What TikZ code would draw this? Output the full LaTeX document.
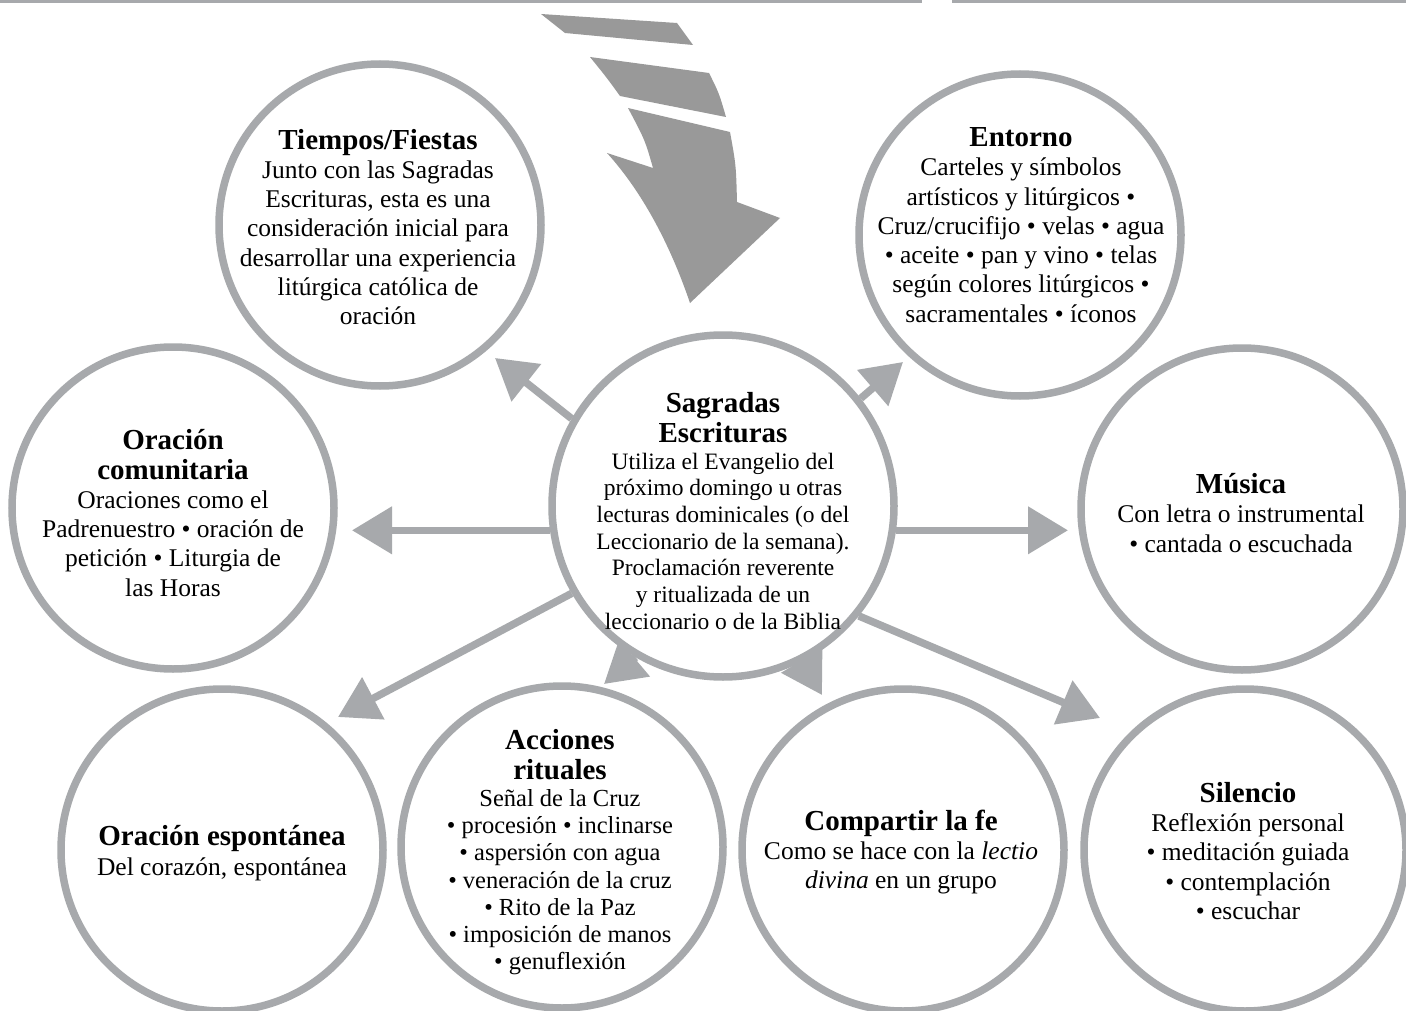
\documentclass[tikz,border=0pt]{standalone}
\usepackage{fontspec}
\setmainfont{Liberation Serif}
\usetikzlibrary{arrows.meta}
\definecolor{ringgray}{HTML}{A7A9AC}
\definecolor{boltgray}{HTML}{999999}
\newcommand\hdfont{\fontsize{29}{30}\selectfont\bfseries}
\begin{document}
\begin{tikzpicture}[x=1pt,y=-1pt,
  ring/.style={circle, draw=ringgray, line width=7.5pt, fill=white, minimum size=322pt, inner sep=0pt},
  conn/.style={line width=7.5pt, draw=ringgray, -{Triangle[length=40pt,width=46pt]}},
  bodyA/.style={align=center, inner sep=0pt, font=\fontsize{25.5}{29.3}\selectfont},
  bodyC/.style={align=center, inner sep=0pt, font=\fontsize{23.5}{26.7}\selectfont},
  bodyR/.style={align=center, inner sep=0pt, font=\fontsize{24.5}{27.1}\selectfont}]
\useasboundingbox (0,0) rectangle (1406,1011);
\fill[white] (0,0) rectangle (1406,1011);
\clip (0,0) rectangle (1406,1011);
% top rules
\fill[ringgray] (0,0) rectangle (922,3);
\fill[ringgray] (952,0) rectangle (1406,3);
% bolt
\fill[boltgray] (541,14) -- (677,23) -- (693,45) -- (565,33) -- cycle;
\fill[boltgray] (590,57) -- (709,73) .. controls (719,93) .. (726,117) -- (620,96) .. controls (607,78) .. (590,57) -- cycle;
\fill[boltgray] (628,108) -- (730,132) .. controls (736,165) .. (737,202) -- (780,218) -- (690,303)
  .. controls (672,250) and (645,195) .. (607,153) -- (653,168) .. controls (645,140) .. (628,108) -- cycle;
% rings
\node[ring] (T) at (380,225) {};
\node[ring] (E) at (1020,235) {};
\node[ring] (C) at (173,508) {};
\node[ring] (M) at (1242,509) {};
\node[ring] (O) at (222,850) {};
\node[ring] (A) at (562,847) {};
\node[ring] (F) at (903,850) {};
\node[ring] (Si) at (1245,850) {};
\node[ring, minimum size=342pt] (S) at (723,506) {};
% arrow tips
\coordinate (tT) at (495,358);
\coordinate (tE) at (903,362);
\coordinate (tC) at (352,531);
\coordinate (tM) at (1068,531);
\coordinate (tO) at (338,717);
\coordinate (tA) at (604,684);
\coordinate (tF) at (822,695);
\coordinate (tSi) at (1100,718);
\draw[conn] (S.150) -- (tT);
\draw[conn] (S.38) -- (tE);
\draw[conn] (S.188.4) -- (S.188.4 -| tC);
\draw[conn] (S.-8.4) -- (S.-8.4 -| tM);
\draw[conn] (S.210.7) -- (tO);
\draw[conn] (S.240) -- (tA);
\draw[conn] (S.297) -- (tF);
\draw[conn] (S.-39) -- (tSi);
% texts
\node[bodyC] (St) at (723,511) {{\hdfont Sagradas}\\[3pt]{\hdfont Escrituras}\\Utiliza el Evangelio del\\próximo domingo u otras\\lecturas dominicales (o del\\Leccionario de la semana).\\Proclamación reverente\\y ritualizada de un\\leccionario o de la Biblia};
\node[bodyA] (Tt) at (378,227) {{\hdfont Tiempos/Fiestas}\\Junto con las Sagradas\\Escrituras, esta es una\\consideración inicial para\\desarrollar una experiencia\\litúrgica católica de\\oración};
\node[bodyA] (Et) at (1021,225) {{\hdfont Entorno}\\Carteles y símbolos\\artísticos y litúrgicos •\\Cruz/crucifijo • velas • agua\\• aceite • pan y vino • telas\\según colores litúrgicos •\\sacramentales • íconos};
\node[bodyA] (Ct) at (173,513) {{\hdfont Oración}\\{\hdfont comunitaria}\\Oraciones como el\\Padrenuestro • oración de\\petición • Liturgia de\\las Horas};
\node[bodyA] (Mt) at (1241,513) {{\hdfont Música}\\Con letra o instrumental\\• cantada o escuchada};
\node[bodyA] (Ot) at (222,853) {{\hdfont Oración espontánea}\\Del corazón, espontánea};
\node[bodyR] (At) at (560,852) {{\hdfont Acciones}\\[3pt]{\hdfont rituales}\\Señal de la Cruz\\• procesión • inclinarse\\• aspersión con agua\\• veneración de la cruz\\• Rito de la Paz\\• imposición de manos\\• genuflexión};
\node[bodyA] (Ft) at (901,852) {{\hdfont Compartir la fe}\\Como se hace con la \textit{lectio}\\\textit{divina} en un grupo};
\node[bodyA] (Sit) at (1248,851) {{\hdfont Silencio}\\Reflexión personal\\• meditación guiada\\• contemplación\\• escuchar};
\end{tikzpicture}
\end{document}
